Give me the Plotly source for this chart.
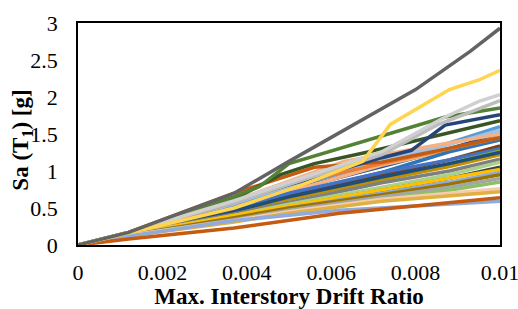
import plotly.graph_objects as go

# Each curve: its own drift values (x) and Sa values (y)
series_colors = [
    "#2F5597", "#5B9BD5", "#9DC3E6", "#F4B183", "#2E75B6", "#843C0C",
    "#4472C4", "#70AD47", "#BF9000", "#1F4E79", "#7F7F7F", "#A9D18E",
    "#404040", "#FFC000", "#8FAADC", "#997300", "#A5A5A5", "#8CC168",
    "#F8CBAD", "#E0B040", "#ED7D31",
    "#8FAADC", "#C55A11", "#F4B183", "#C55A11", "#375623", "#264478",
    "#548235", "#BDBDBD", "#D0D0D0", "#FFD44F", "#636363",
]

grid = [0, 0.0012, 0.0037, 0.005, 0.0072, 0.0088, 0.01]

series_x = [
    grid, grid, grid, grid, grid, grid,
    grid, grid, grid, grid, grid, grid,
    grid, grid, grid, grid, grid, grid,
    grid, grid, grid,
    [0, 0.0012, 0.0037, 0.0062, 0.01],
    [0, 0.0012, 0.0037, 0.0062, 0.01],
    [0, 0.0012, 0.0037, 0.0063, 0.01],
    [0, 0.0012, 0.0037, 0.0056, 0.0072, 0.01],
    [0, 0.0012, 0.0037, 0.0048, 0.0056, 0.0069, 0.01],
    [0, 0.0012, 0.0037, 0.005, 0.0072, 0.0079, 0.0087, 0.01],
    [0, 0.0012, 0.0037, 0.0043, 0.005, 0.0072, 0.0087, 0.01],
    [0, 0.0012, 0.0037, 0.005, 0.0072, 0.0085, 0.01],
    [0, 0.0012, 0.0037, 0.005, 0.0072, 0.0087, 0.0095, 0.01],
    [0, 0.0012, 0.0037, 0.0053, 0.00675, 0.0074, 0.0088, 0.0095, 0.01],
    [0, 0.0012, 0.0037, 0.005, 0.0080, 0.0093, 0.01],
]

series_y = [
    [0, 0.16, 0.52, 0.74, 1.06, 1.30, 1.50],
    [0, 0.16, 0.55, 0.78, 1.12, 1.38, 1.60],
    [0, 0.16, 0.56, 0.80, 1.15, 1.36, 1.55],
    [0, 0.16, 0.50, 0.72, 1.08, 1.28, 1.46],
    [0, 0.15, 0.48, 0.68, 0.98, 1.26, 1.42],
    [0, 0.15, 0.47, 0.66, 0.95, 1.15, 1.34],
    [0, 0.16, 0.50, 0.70, 0.98, 1.15, 1.30],
    [0, 0.15, 0.45, 0.64, 0.90, 1.10, 1.27],
    [0, 0.15, 0.44, 0.62, 0.88, 1.06, 1.22],
    [0, 0.15, 0.46, 0.65, 0.92, 1.10, 1.25],
    [0, 0.15, 0.42, 0.58, 0.84, 1.00, 1.16],
    [0, 0.14, 0.40, 0.55, 0.78, 0.95, 1.12],
    [0, 0.14, 0.38, 0.52, 0.74, 0.90, 1.05],
    [0, 0.14, 0.40, 0.53, 0.75, 0.90, 1.02],
    [0, 0.14, 0.36, 0.50, 0.70, 0.85, 0.98],
    [0, 0.13, 0.37, 0.50, 0.68, 0.82, 0.95],
    [0, 0.13, 0.34, 0.47, 0.65, 0.78, 0.90],
    [0, 0.13, 0.32, 0.45, 0.62, 0.74, 0.85],
    [0, 0.13, 0.33, 0.45, 0.62, 0.70, 0.76],
    [0, 0.12, 0.31, 0.43, 0.59, 0.66, 0.72],
    [0, 0.16, 0.58, 0.82, 1.10, 1.30, 1.45],
    [0, 0.12, 0.33, 0.47, 0.59],
    [0, 0.08, 0.23, 0.43, 0.64],
    [0, 0.17, 0.60, 1.13, 1.50],
    [0, 0.17, 0.70, 1.05, 1.12, 1.45],
    [0, 0.17, 0.62, 0.95, 1.10, 1.26, 1.68],
    [0, 0.17, 0.60, 0.82, 1.18, 1.28, 1.62, 1.76],
    [0, 0.17, 0.65, 0.79, 1.10, 1.48, 1.73, 1.85],
    [0, 0.17, 0.58, 0.82, 1.22, 1.62, 1.95],
    [0, 0.17, 0.60, 0.85, 1.26, 1.73, 1.94, 2.03],
    [0, 0.16, 0.50, 0.81, 1.13, 1.63, 2.10, 2.23, 2.36],
    [0, 0.17, 0.70, 1.13, 2.10, 2.62, 2.93],
]

x_ticks = [0, 0.002, 0.004, 0.006, 0.008, 0.01]
x_tick_labels = ["0", "0.002", "0.004", "0.006", "0.008", "0.01"]
y_ticks = [0, 0.5, 1, 1.5, 2, 2.5, 3]
y_tick_labels = ["0", "0.5", "1", "1.5", "2", "2.5", "3"]

x_title = "Max. Interstory Drift Ratio"
y_title = "Sa (T<sub>1</sub>) [g]"

FONT = "Liberation Serif, Times New Roman, serif"

fig = go.Figure()
for xs, ys, c in zip(series_x, series_y, series_colors):
    fig.add_trace(go.Scatter(x=xs, y=ys, mode="lines",
                             line=dict(color=c, width=3.5),
                             showlegend=False, hoverinfo="skip"))

fig.update_layout(
    width=518, height=309,
    margin=dict(l=78, r=18, t=23, b=64),
    paper_bgcolor="white", plot_bgcolor="white",
    font=dict(family=FONT, size=22, color="black"),
)
fig.update_xaxes(
    range=[0, 0.01], tickvals=x_ticks, ticktext=x_tick_labels,
    showgrid=False, zeroline=False, showline=True, mirror=True,
    linecolor="black", linewidth=1.5, ticks="", ticklabelstandoff=7,
    automargin=False, ticklabeloverflow="allow",
    title=dict(text=x_title, font=dict(family=FONT, size=23, color="black",
                                       weight="bold"), standoff=16),
)
fig.update_yaxes(
    range=[0, 3], tickvals=y_ticks, ticktext=y_tick_labels,
    showgrid=False, zeroline=False, showline=True, mirror=True,
    linecolor="black", linewidth=1.5, ticks="", ticklabelstandoff=14,
    automargin=False, ticklabeloverflow="allow",
)
fig.add_annotation(
    text=y_title, xref="paper", yref="paper", x=0, y=0.47,
    xanchor="center", yanchor="middle", xshift=-56, textangle=-90,
    showarrow=False,
    font=dict(family=FONT, size=23, color="black", weight="bold"),
)

fig.write_html(
    "out.html",
    config={"displayModeBar": False},
    post_script="document.body.style.margin='0';"
                "document.body.style.overflow='hidden';",
)
